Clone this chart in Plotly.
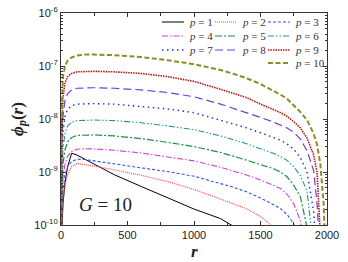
import plotly.graph_objects as go

# radial grid (r) shared by all curves; each curve lists values until it leaves the axis
R = [1, 5, 15, 30, 50, 80, 120, 180, 250, 400, 600, 800, 1000, 1200, 1300, 1400,
     1500, 1600, 1650, 1700, 1750, 1800, 1850, 1900, 1925, 1950, 1975, 2000]

PHI_P1 = [1.0e-11, 6.31e-11, 2.51e-10, 6.31e-10, 1.26e-9, 2.26e-9, 2.09e-9, 1.74e-9,
          1.38e-9, 8.91e-10, 5.37e-10, 3.31e-10, 2.0e-10, 1.32e-10, 9.33e-11]
PHI_P2 = [1.0e-11, 7.94e-11, 2.82e-10, 5.62e-10, 8.91e-10, 1.26e-9, 1.45e-9, 1.38e-9,
          1.29e-9, 1.10e-9, 8.71e-10, 6.61e-10, 4.68e-10, 3.09e-10, 2.51e-10, 2.0e-10,
          1.45e-10, 8.91e-11]
PHI_P3 = [1.0e-11, 1.26e-10, 4.47e-10, 8.91e-10, 1.26e-9, 1.58e-9, 1.74e-9, 1.72e-9,
          1.62e-9, 1.41e-9, 1.20e-9, 1.02e-9, 8.32e-10, 6.03e-10, 5.13e-10, 4.17e-10,
          3.24e-10, 2.40e-10, 2.04e-10, 1.58e-10, 1.05e-10, 2.51e-11]
PHI_P4 = [1.26e-11, 2.0e-10, 7.94e-10, 1.41e-9, 2.0e-9, 2.45e-9, 2.69e-9, 2.75e-9,
          2.72e-9, 2.57e-9, 2.29e-9, 1.95e-9, 1.62e-9, 1.23e-9, 1.05e-9, 8.71e-10,
          7.08e-10, 5.62e-10, 4.90e-10, 3.80e-10, 2.51e-10, 1.20e-10, 1.58e-11]
PHI_P5 = [1.58e-11, 3.16e-10, 1.41e-9, 2.63e-9, 3.72e-9, 4.47e-9, 4.90e-9, 5.01e-9,
          5.01e-9, 4.79e-9, 4.27e-9, 3.63e-9, 3.02e-9, 2.34e-9, 2.0e-9, 1.66e-9,
          1.38e-9, 1.15e-9, 1.0e-9, 8.13e-10, 5.62e-10, 3.39e-10, 8.91e-11]
PHI_P6 = [2.0e-11, 6.31e-10, 2.82e-9, 5.37e-9, 7.41e-9, 8.71e-9, 9.33e-9, 9.55e-9,
          9.55e-9, 9.33e-9, 8.51e-9, 7.41e-9, 6.31e-9, 4.79e-9, 4.07e-9, 3.39e-9,
          2.75e-9, 2.24e-9, 1.95e-9, 1.66e-9, 1.26e-9, 8.51e-10, 4.37e-10, 3.16e-11]
PHI_P7 = [2.51e-11, 1.26e-9, 5.62e-9, 1.12e-8, 1.51e-8, 1.78e-8, 1.91e-8, 1.95e-8,
          1.95e-8, 1.91e-8, 1.74e-8, 1.55e-8, 1.32e-8, 9.55e-9, 8.13e-9, 6.76e-9,
          5.50e-9, 4.47e-9, 3.98e-9, 3.39e-9, 2.69e-9, 1.86e-9, 1.0e-9, 1.78e-10, 1.58e-11]
PHI_P8 = [3.16e-11, 2.51e-9, 1.12e-8, 2.24e-8, 3.02e-8, 3.55e-8, 3.80e-8, 3.89e-8,
          3.89e-8, 3.80e-8, 3.55e-8, 3.16e-8, 2.63e-8, 1.91e-8, 1.58e-8, 1.32e-8,
          1.07e-8, 8.71e-9, 7.76e-9, 6.76e-9, 5.62e-9, 4.17e-9, 2.51e-9, 1.05e-9,
          2.51e-10, 2.51e-11]
PHI_P9 = [3.16e-11, 6.31e-9, 2.51e-8, 4.79e-8, 6.31e-8, 7.24e-8, 7.76e-8, 7.94e-8,
          7.94e-8, 7.76e-8, 7.24e-8, 6.31e-8, 5.13e-8, 3.63e-8, 3.02e-8, 2.51e-8,
          1.91e-8, 1.51e-8, 1.32e-8, 1.12e-8, 8.91e-9, 6.76e-9, 4.37e-9, 2.09e-9,
          1.0e-9, 6.31e-11]
PHI_P10 = [3.16e-11, 1.58e-8, 6.31e-8, 1.0e-7, 1.26e-7, 1.45e-7, 1.58e-7, 1.64e-7,
           1.64e-7, 1.60e-7, 1.48e-7, 1.29e-7, 1.08e-7, 8.41e-8, 7.08e-8, 5.82e-8,
           4.57e-8, 3.39e-8, 2.88e-8, 2.40e-8, 1.82e-8, 1.35e-8, 9.55e-9, 5.25e-9,
           3.31e-9, 1.41e-9, 2.51e-10, 3.16e-12]

SERIES = [PHI_P1, PHI_P2, PHI_P3, PHI_P4, PHI_P5, PHI_P6, PHI_P7, PHI_P8, PHI_P9, PHI_P10]
LABELS = ["1", "2", "3", "4", "5", "6", "7", "8", "9", "10"]

X_TICKS = [0, 500, 1000, 1500, 2000]
Y_TICKS = [1e-10, 1e-9, 1e-8, 1e-7, 1e-6]
Y_TICK_TEXT = ["10<sup>-10</sup>", "10<sup>-9</sup>", "10<sup>-8</sup>",
               "10<sup>-7</sup>", "10<sup>-6</sup>"]

COLORS = ["#000000", "#FF4040", "#3355DD", "#D040D0", "#1E9040",
          "#219595", "#2626C8", "#6A40D8", "#B01818", "#8C8C28"]
DASHES = ["solid", "1px,1px", "3px,2px", "6px,2px,1.5px,2px", "7px,2px,2px,2px",
          "6px,2px,1.5px,2px,1.5px,2px", "1.5px,3.5px", "8px,4px", "1.5px,1px", "5px,2.5px"]
WIDTHS = [1.0, 1.1, 1.1, 1.1, 1.2, 1.1, 1.4, 1.2, 1.6, 2.0]

# plot area in window pixels: x 61..327, y 13..225 (page body margin removed below)
W, H = 348, 262
PL, PT, PR, PB = 61, 13, 327, 225
ML, MT, MR, MB = PL, PT, W - PR, H - PB
PW, PH = PR - PL, PB - PT

fig = go.Figure()
for i, phi in enumerate(SERIES):
    fig.add_trace(go.Scatter(
        x=R[:len(phi)], y=phi, mode="lines",
        line=dict(color=COLORS[i], dash=DASHES[i], width=WIDTHS[i]),
        name="p = " + LABELS[i], showlegend=False))

# legend drawn as a 3-column grid in the upper right (window pixel positions)
col_sym = [162, 215, 268]
row_y = [22, 36, 50, 63]
order = [(0, 0), (0, 1), (0, 2), (1, 0), (1, 1), (1, 2), (2, 0), (2, 1), (2, 2), (3, 2)]
shapes = []
annotations = []
for i, (row, col) in enumerate(order):
    x0 = (col_sym[col] - PL) / PW
    x1 = (col_sym[col] + 22 - PL) / PW
    yy = 1 - (row_y[row] - PT) / PH
    shapes.append(dict(type="line", xref="paper", yref="paper", x0=x0, x1=x1, y0=yy, y1=yy,
                       line=dict(color=COLORS[i], dash=DASHES[i], width=WIDTHS[i])))
    annotations.append(dict(xref="paper", yref="paper", x=(col_sym[col] + 25 - PL) / PW, y=yy,
                            xanchor="left", yanchor="middle", showarrow=False,
                            text="<i>p</i> = " + LABELS[i],
                            font=dict(family="Liberation Serif", size=11, color="#333333")))

annotations.append(dict(x=331, y=-9.62, xref="x", yref="y", showarrow=False,
                        text="<i>G</i> = 10",
                        font=dict(family="Liberation Serif", size=19, color="#222222")))

# x-axis title placed just under the tick labels
annotations.append(dict(x=0.5, y=1 - (252 - PT) / PH, xref="paper", yref="paper",
                        xanchor="center", yanchor="middle", showarrow=False,
                        text="<b><i>r</i></b>",
                        font=dict(family="Liberation Serif", size=17, color="#222222")))

axis_common = dict(showline=True, linecolor="#333333", linewidth=1.2, mirror="allticks",
                   ticks="inside", tickcolor="#333333", showgrid=False, zeroline=False,
                   automargin=False,
                   tickfont=dict(family="Liberation Sans", size=11, color="#222222"))

fig.update_layout(
    width=W, height=H,
    margin=dict(l=ML, r=MR, t=MT, b=MB, pad=0),
    paper_bgcolor="white", plot_bgcolor="white",
    shapes=shapes, annotations=annotations,
    xaxis=dict(range=[0, 2000], tickvals=X_TICKS, ticklen=4,
               minor=dict(ticks="inside", dtick=250, ticklen=3, tickcolor="#333333"),
               **axis_common),
    yaxis=dict(type="log", range=[-10, -6], tickvals=Y_TICKS, ticktext=Y_TICK_TEXT,
               ticklen=4,
               minor=dict(ticks="inside", dtick="D1", ticklen=2, tickcolor="#333333"),
               title=dict(text="<b><i>ϕ<sub>p</sub></i>(<i>r</i>)</b>", standoff=6,
                          font=dict(family="Liberation Serif", size=17, color="#222222")),
               **axis_common),
)

fig.write_html("out.html",
               config={"displayModeBar": False},
               post_script="document.body.style.margin='0';document.body.style.overflow='hidden';")
